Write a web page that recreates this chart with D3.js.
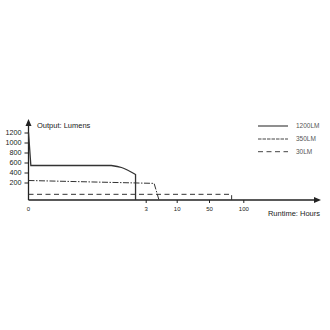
<!DOCTYPE html>
<html>
<head>
<meta charset="utf-8">
<script src="https://d3js.org/d3.v7.min.js"></script>
<style>
	body { margin: 0; background: #fff; }
	text { font-family: "Liberation Sans", Arial, sans-serif; fill: #222; }
	.leg_text { fill: #555; font-size: 6.5px; }
</style>
</head>
<body>
<svg id="chart" width="330" height="330"></svg>
<script>
// runtime points, hours / lumens
const hours_1200 = [0, 0.06, 2.12, 2.38, 2.74, 2.74];
const lumens_1200 = [1200, 540, 540, 500, 360, 0];
const hours_350 = [0, 4.9, 6.0];
const lumens_350 = [240, 190, 0];
const hours_30 = [0, 83, 83];
const lumens_30 = [65, 65, 0];

const y_ticks = [200, 400, 600, 800, 1000, 1200];
const x_ticks = [3, 10, 50, 100];
const series_names = ["1200LM", "350LM", "30LM"];

var svg = d3.select("#chart");

// the runtime axis is not regular, so piecewise scales
var x = d3.scaleLinear()
	.domain([0, 3, 10, 50, 100])
	.range([28.5, 145.7, 176.7, 209, 243.3]);

var y = d3.scaleLinear()
	.domain([0, 200, 1200])
	.range([200, 182.5, 132.5]);

var axis_color = "#222";

//x axis with arrow
svg.append("line")
	.attr("x1", x(0))
	.attr("x2", 316)
	.attr("y1", y(0))
	.attr("y2", y(0))
	.attr("stroke", axis_color)
	.attr("stroke-width", 1.3);

svg.append("path")
	.attr("d", "M321," + y(0) + " L314," + (y(0) - 3) + " L314," + (y(0) + 3) + " Z")
	.attr("fill", axis_color);

//y axis with arrow
svg.append("line")
	.attr("x1", x(0))
	.attr("x2", x(0))
	.attr("y1", y(0))
	.attr("y2", 124)
	.attr("stroke", axis_color)
	.attr("stroke-width", 1.3);

svg.append("path")
	.attr("d", "M" + x(0) + ",119 L" + (x(0) - 3) + ",126 L" + (x(0) + 3) + ",126 Z")
	.attr("fill", axis_color);

var yAxis = d3.axisLeft(y)
	.tickValues(y_ticks)
	.tickFormat(d3.format("d"))
	.tickSize(4)
	.tickPadding(3);

var gy = svg.append("g")
	.attr("transform", "translate(" + x(0) + ",0)")
	.call(yAxis);
gy.select(".domain").remove();
gy.selectAll("line").attr("stroke", axis_color);
gy.selectAll("text").attr("font-size", 7.2).attr("font-family", null);

var xAxis = d3.axisBottom(x)
	.tickValues(x_ticks)
	.tickFormat(d3.format("d"))
	.tickSize(3)
	.tickPadding(4);

var gx = svg.append("g")
	.attr("transform", "translate(0," + y(0) + ")")
	.call(xAxis);
gx.select(".domain").remove();
gx.selectAll("line").attr("stroke", axis_color);
gx.selectAll("text").attr("font-size", 6).attr("font-family", null);

svg.append("text")
	.attr("x", x(0))
	.attr("y", y(0) + 11)
	.attr("text-anchor", "middle")
	.attr("font-size", 6)
	.text("0");

//axis titles
svg.append("text")
	.attr("x", 37)
	.attr("y", 127.5)
	.attr("font-size", 7.5)
	.text("Output: Lumens");

svg.append("text")
	.attr("x", 320)
	.attr("y", 216)
	.attr("text-anchor", "end")
	.attr("font-size", 7.5)
	.text("Runtime: Hours");

//series lines
var line = d3.line()
	.x(d => x(d[0]))
	.y(d => y(d[1]));

var smooth = d3.line()
	.x(d => x(d[0]))
	.y(d => y(d[1]))
	.curve(d3.curveMonotoneX);

var dashes = ["", "6,1.5,1.5,1.5", "5,3.5"];

var pts_1200 = hours_1200.map((h, i) => [h, lumens_1200[i]]);
var pts_350 = hours_350.map((h, i) => [h, lumens_350[i]]);
var pts_30 = hours_30.map((h, i) => [h, lumens_30[i]]);

// 1200LM: straight drop, flat part and a rounded fall off
svg.append("path")
	.attr("d", line(pts_1200.slice(0, 3)) + smooth(pts_1200.slice(2, 5)).replace("M", "L") + line(pts_1200.slice(4)).replace("M", "L"))
	.attr("fill", "none")
	.attr("stroke", "#333")
	.attr("stroke-width", 1.3);

svg.append("path")
	.attr("d", line(pts_350))
	.attr("fill", "none")
	.attr("stroke", "#333")
	.attr("stroke-width", 1)
	.attr("stroke-dasharray", dashes[1]);

svg.append("path")
	.attr("d", line(pts_30))
	.attr("fill", "none")
	.attr("stroke", "#333")
	.attr("stroke-width", 1)
	.attr("stroke-dasharray", dashes[2]);

//legend
var leg_y = [126, 139, 151.7];
series_names.forEach(function(name, i){
	svg.append("line")
		.attr("x1", 258)
		.attr("x2", 288)
		.attr("y1", leg_y[i])
		.attr("y2", leg_y[i])
		.attr("stroke", "#444")
		.attr("stroke-width", i == 0 ? 1.2 : 1)
		.attr("stroke-dasharray", i == 1 ? "3.5,1" : dashes[i]);

	svg.append("text")
		.attr("class", "leg_text")
		.attr("x", 296)
		.attr("y", leg_y[i] + 2.3)
		.text(name);
});
</script>
</body>
</html>
